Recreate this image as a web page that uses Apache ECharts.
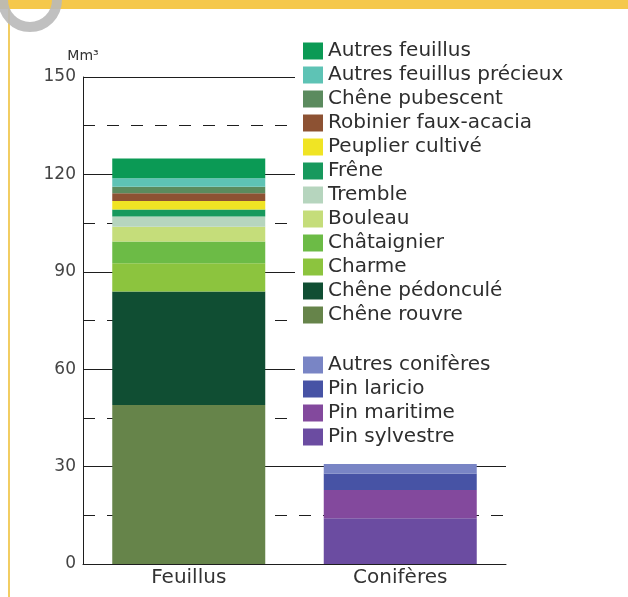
<!DOCTYPE html>
<html>
<head>
<meta charset="utf-8">
<script src="https://cdn.jsdelivr.net/npm/echarts@6/dist/echarts.min.js"></script>
<style>
  html, body { margin: 0; padding: 0; background: #ffffff; }
  #chart { width: 628px; height: 597px; }
</style>
</head>
<body>
<div id="chart"></div>
<script>
// Standing volume by species group (Mm³)
const categories = ['Feuillus', 'Conifères'];

// Broadleaves, stacked bottom to top
const feuillusNames = [
  'Chêne rouvre', 'Chêne pédonculé', 'Charme', 'Châtaignier', 'Bouleau',
  'Tremble', 'Frêne', 'Peuplier cultivé', 'Robinier faux-acacia',
  'Chêne pubescent', 'Autres feuillus précieux', 'Autres feuillus'
];
const feuillusValues = [49.0, 34.9, 8.7, 6.7, 4.6, 3.1, 2.2, 2.6, 2.4, 2.0, 2.6, 6.1];
const feuillusColors = [
  '#66844a', '#104e33', '#8cc43e', '#6cbb46', '#c5dd7a',
  '#b6d5be', '#17995d', '#f0e424', '#8d5233',
  '#5b8b5e', '#5ec3b5', '#0b9a55'
];

// Conifers, stacked bottom to top
const coniferesNames = ['Pin sylvestre', 'Pin maritime', 'Pin laricio', 'Autres conifères'];
const coniferesValues = [14.1, 8.7, 5.1, 2.9];
const coniferesColors = ['#6b4ca1', '#83499d', '#4753a5', '#7985c5'];

const yTicks = { min: 0, max: 150, interval: 30 };

const series = [];
feuillusNames.forEach((name, i) => {
  series.push({
    name, type: 'bar', stack: 'vol', barWidth: 153,
    itemStyle: { color: feuillusColors[i] },
    data: [feuillusValues[i], '-']
  });
});
coniferesNames.forEach((name, i) => {
  series.push({
    name, type: 'bar', stack: 'vol', barWidth: 153,
    itemStyle: { color: coniferesColors[i] },
    data: ['-', coniferesValues[i]]
  });
});

const font = '"DejaVu Sans", "Open Sans", sans-serif';
const legendCommon = {
  orient: 'vertical',
  left: 295,
  itemWidth: 20,
  itemHeight: 17,
  itemGap: 4,
  icon: 'rect',
  backgroundColor: '#ffffff',
  selectedMode: false,
  textStyle: { fontFamily: font, fontSize: 20, color: '#2e2e2e' }
};

const chart = echarts.init(document.getElementById('chart'), null, { renderer: 'canvas' });
chart.setOption({
  animation: false,
  backgroundColor: '#ffffff',
  textStyle: { fontFamily: font },
  grid: { left: 83, right: 122, top: 77, bottom: 33, containLabel: false },
  legend: [
    Object.assign({}, legendCommon, {
      top: 31,
      padding: [10, 40, 8, 8],
      data: feuillusNames.slice().reverse()
    }),
    Object.assign({}, legendCommon, {
      top: 335,
      padding: [20, 130, 8, 8],
      data: coniferesNames.slice().reverse()
    })
  ],
  xAxis: {
    type: 'category',
    data: categories,
    axisLine: { show: true, lineStyle: { color: '#1e1e1e', width: 1 } },
    axisTick: { show: false },
    axisLabel: { fontFamily: font, fontSize: 20, color: '#333333', margin: 4 }
  },
  yAxis: {
    type: 'value',
    min: yTicks.min, max: yTicks.max, interval: yTicks.interval,
    name: 'Mm³',
    nameLocation: 'end',
    nameGap: 14,
    nameTextStyle: { fontFamily: font, fontSize: 14, color: '#333333', align: 'center' },
    axisLine: { show: true, lineStyle: { color: '#1e1e1e', width: 1 } },
    axisTick: { show: false },
    axisLabel: { fontFamily: font, fontSize: 17, color: '#444444', margin: 7 },
    splitLine: { show: true, lineStyle: { color: '#1e1e1e', width: 1 } },
    minorTick: { show: false, splitNumber: 2 },
    minorSplitLine: { show: true, lineStyle: { color: '#1e1e1e', width: 1, type: [12, 12] } }
  },
  graphic: [
    { type: 'rect', shape: { x: 0, y: 0, width: 628, height: 9 }, style: { fill: '#f5c84c' }, z: 100 },
    { type: 'rect', shape: { x: 8, y: 9, width: 2, height: 588 }, style: { fill: '#f2cd62' }, z: 100 },
    { type: 'circle', shape: { cx: 30, cy: 0, r: 27 }, style: { fill: 'none', stroke: 'rgba(185,185,185,0.9)', lineWidth: 10 }, z: 101 }
  ],
  series
});
</script>
</body>
</html>
